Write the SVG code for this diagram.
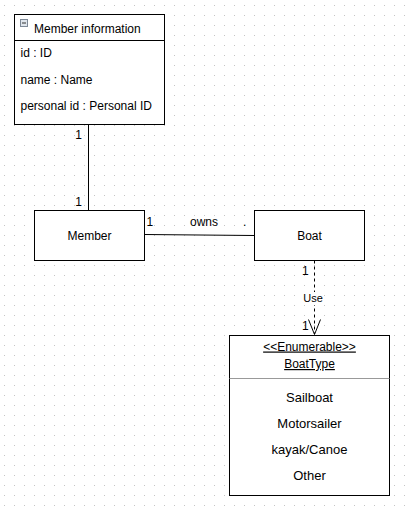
<svg xmlns="http://www.w3.org/2000/svg" width="405" height="511" viewBox="0 0 405 511">
<style>
text{font-family:"Liberation Sans",Arial,sans-serif;fill:#000}
.box{fill:#fff;stroke:#000;stroke-width:1}
.f12{font-size:12px}
.f13{font-size:13px}
.f11{font-size:11px}
.mid{text-anchor:middle}
.end{text-anchor:end}
.ln{stroke:#000;stroke-width:1;fill:none}
</style>
<defs>
<pattern id="grid" width="10" height="10" patternUnits="userSpaceOnUse">
<rect x="4" y="5" width="1" height="1" fill="#c4c4c4"/>
</pattern>
</defs>
<rect width="405" height="511" fill="#fff"/>
<rect width="405" height="511" fill="url(#grid)"/>

<g id="connectors">
<line class="ln" x1="88.5" y1="124.5" x2="88.5" y2="210.5"/>
<text class="f12 end" x="82" y="138.5">1</text>
<text class="f12 end" x="82" y="206">1</text>
<line class="ln" x1="144.5" y1="234.5" x2="254.5" y2="235.5"/>
<text class="f12" x="146.5" y="226">1</text>
<text class="f12 mid" x="204" y="226">owns</text>
<text class="f12" x="243" y="226">.</text>
<line class="ln" x1="314.5" y1="260.5" x2="314.5" y2="334" stroke-dasharray="3 3"/>
<polyline class="ln" points="308.5,319.5 314.5,334.5 320.5,319.5"/>
<text class="f12" x="302" y="275">1</text>
<rect x="303" y="292" width="20" height="13" fill="#fff"/>
<text class="f11 mid" x="313" y="302">Use</text>
<text class="f12" x="302" y="330">1</text>
</g>

<g id="member-information">
<rect class="box" x="14.5" y="14.5" width="150" height="110"/>
<line class="ln" x1="14.5" y1="40.5" x2="164.5" y2="40.5"/>
<rect x="20.5" y="19.5" width="7" height="7" fill="#dfe5ec" stroke="#7d8896" stroke-width="1"/>
<line x1="22" y1="23" x2="26" y2="23" stroke="#333" stroke-width="1"/>
<text class="f12" x="34" y="32.5">Member information</text>
<text class="f12" x="20.5" y="57">id : ID</text>
<text class="f12" x="20.5" y="83.5">name : Name</text>
<text class="f12" x="20.5" y="110">personal id : Personal ID</text>
</g>

<g id="member">
<rect class="box" x="34.5" y="210.5" width="110" height="50"/>
<text class="f12 mid" x="89.5" y="240">Member</text>
</g>

<g id="boat">
<rect class="box" x="254.5" y="210.5" width="110" height="50"/>
<text class="f12 mid" x="309.5" y="240">Boat</text>
</g>

<g id="boattype">
<rect class="box" x="229.5" y="335.5" width="160" height="160"/>
<line x1="229.5" y1="378.5" x2="389.5" y2="378.5" stroke="#999" stroke-width="1"/>
<text class="f12 mid" x="309.5" y="350.5" text-decoration="underline">&lt;&lt;Enumerable&gt;&gt;</text>
<text class="f12 mid" x="309.5" y="368" text-decoration="underline">BoatType</text>
<text class="f13 mid" x="309.5" y="402">Sailboat</text>
<text class="f13 mid" x="309.5" y="428">Motorsailer</text>
<text class="f13 mid" x="309.5" y="454">kayak/Canoe</text>
<text class="f13 mid" x="309.5" y="480">Other</text>
</g>
</svg>
